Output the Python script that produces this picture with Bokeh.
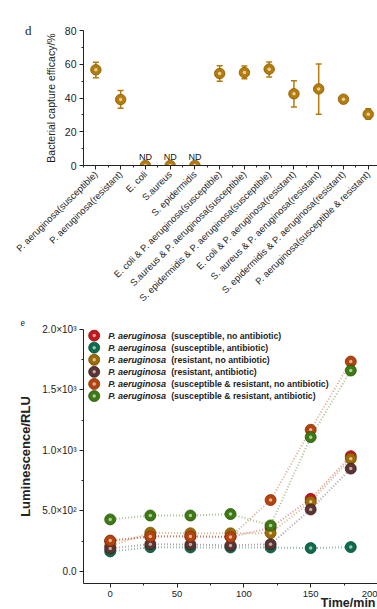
from bokeh.plotting import figure
from bokeh.models import ColumnDataSource, Whisker, TeeHead, FixedTicker, Range1d, Title, LinearAxis
from bokeh.layouts import column
from bokeh.embed import file_html
from bokeh.resources import INLINE
from bokeh.core.properties import value

# ---------------- data: panel d ----------------
categories = [
    "P. aeruginosa(susceptible)",
    "P. aeruginosa(resistant)",
    "E. coli",
    "S.aureus",
    "S. epidermidis",
    "E. coli & P. aeruginosa(susceptible)",
    "S.aureus & P. aeruginosa(susceptible)",
    "S. epidermidis & P. aeruginosa(susceptible)",
    "E. coli & P. aeruginosa(resistant)",
    "S. aureus & P. aeruginosa(resistant)",
    "S. epidermidis & P. aeruginosa(resistant)",
    "P. aeruginosa(susceptible & resistant)",
]
capture_mean = [56.7, 39.1, 0, 0, 0, 54.5, 55.1, 57.1, 42.5, 45.4, 39.3, 30.4]
capture_low = [52.0, 34.0, 0, 0, 0, 50.0, 51.4, 52.5, 34.6, 30.4, 38.5, 27.6]
capture_high = [61.2, 44.4, 0, 0, 0, 59.1, 58.9, 61.4, 50.2, 60.2, 40.1, 33.6]
not_detected = [False, False, True, True, True, False, False, False, False, False, False, False]

# ---------------- data: panel e ----------------
time_min = [0, 30, 60, 90, 120, 150, 180]
lum_sus_noab = [250, 290, 290, 285, 360, 600, 953]
lum_sus_ab = [165, 200, 198, 198, 198, 193, 201]
lum_res_noab = [210, 320, 315, 315, 317, 575, 931]
lum_res_ab = [190, 225, 222, 215, 225, 512, 850]
lum_mix_noab = [255, 289, 289, 285, 590, 1171, 1735]
lum_mix_ab = [430, 462, 462, 474, 380, 1110, 1661]
series_species = ["P. aeruginosa"] * 6
series_conditions = [
    "(susceptible, no antibiotic)",
    "(susceptible, antibiotic)",
    "(resistant, no antibiotic)",
    "(resistant, antibiotic)",
    "(susceptible & resistant, no antibiotic)",
    "(susceptible & resistant, antibiotic)",
]
series_values = [lum_sus_noab, lum_sus_ab, lum_res_noab, lum_res_ab, lum_mix_noab, lum_mix_ab]
series_colors = ["#C4161C", "#0E6B4C", "#9C6B05", "#5B3330", "#B4440E", "#3D7A14"]
series_edges = ["#8E0E12", "#084A34", "#6E4B02", "#3C201E", "#7E2E08", "#28540C"]

FONT = "Liberation Sans"
AX = "#222222"

def style_axes(p):
    p.outline_line_color = None
    p.xgrid.grid_line_color = None
    p.ygrid.grid_line_color = None
    for ax in (p.xaxis[0], p.yaxis[0]):
        ax.axis_line_color = AX
        ax.major_tick_line_color = AX
        ax.minor_tick_line_color = AX
        ax.major_tick_in = 0
        ax.major_tick_out = 4
        ax.minor_tick_in = 0
        ax.minor_tick_out = 2
        ax.major_label_text_font = FONT
        ax.major_label_text_color = AX
        ax.axis_label_text_font = FONT
        ax.axis_label_text_color = AX
        ax.major_label_standoff = 3

# ---------------- panel d ----------------
gold = "#B47C0C"
gold_edge = "#855A04"
xpos = [i + 1 for i in range(len(categories))]

p1 = figure(width=377, height=310, x_range=Range1d(0.5, 12.375), y_range=Range1d(0, 80),
            output_backend="svg", toolbar_location=None,
            min_border_left=73, min_border_right=0, min_border_top=30, min_border_bottom=145)
style_axes(p1)
p1.xaxis.ticker = FixedTicker(ticks=xpos, minor_ticks=[x + 0.5 for x in xpos[:-1]] + [0.5])
p1.xaxis.major_label_overrides = {x: c for x, c in zip(xpos, categories)}
p1.xaxis.major_label_orientation = 0.78
p1.xaxis.major_label_text_font_size = "9.4px"
p1.yaxis.ticker = FixedTicker(ticks=[0, 20, 40, 60, 80], minor_ticks=[10, 30, 50, 70])
p1.yaxis.major_label_text_font_size = "10.5px"
p1.yaxis.axis_label = "Bacterial capture efficacy/%"
p1.yaxis.axis_label_text_font_size = "10.5px"
p1.yaxis.axis_label_text_font_style = "normal"
p1.yaxis.axis_label_standoff = 5

# panel letter "d" carried by a bare outer axis (no line, no ticks)
letter_axis = LinearAxis(ticker=FixedTicker(ticks=[], minor_ticks=[]), axis_line_color=None,
                         major_tick_line_color=None, minor_tick_line_color=None,
                         axis_label="d", axis_label_orientation="horizontal",
                         axis_label_standoff=10, axis_label_text_font="Liberation Serif",
                         axis_label_text_font_size="13px", axis_label_text_font_style="normal",
                         axis_label_text_color=AX)
if "axis_label_align" in letter_axis.properties():
    letter_axis.axis_label_align = "end"
p1.add_layout(letter_axis, "left")

det = [i for i, nd in enumerate(not_detected) if not nd]
err_src = ColumnDataSource(dict(x=[xpos[i] for i in det],
                                lo=[capture_low[i] for i in det],
                                hi=[capture_high[i] for i in det]))
wh = Whisker(base="x", lower="lo", upper="hi", source=err_src, line_color=gold, line_width=1.5,
             upper_head=TeeHead(size=6, line_color=gold, line_width=1.5),
             lower_head=TeeHead(size=6, line_color=gold, line_width=1.5), level="underlay")
p1.add_layout(wh)
p1.scatter(xpos, capture_mean, size=10.5, fill_color=gold, line_color=gold_edge, line_width=0.8)
p1.scatter(xpos, capture_mean, size=3.5, fill_color="#F3DFAF", line_color=None, fill_alpha=0.85)
nd_x = [xpos[i] for i, nd in enumerate(not_detected) if nd]
p1.text(x=nd_x, y=[capture_mean[i] for i, nd in enumerate(not_detected) if nd], text=["ND"] * len(nd_x),
        text_font=value(FONT), text_font_size="9px", text_align="center", text_baseline="bottom",
        y_offset=-4, text_color="#111111")

# ---------------- panel e ----------------
p2 = figure(width=377, height=299, x_range=Range1d(-20, 200), y_range=Range1d(-100, 2000),
            output_backend="svg", toolbar_location=None,
            min_border_left=83, min_border_right=0, min_border_top=19, min_border_bottom=26)
style_axes(p2)
p2.title.text = "e"
p2.title.align = "left"
p2.title.offset = -63
p2.title.standoff = 7
p2.title.text_font = "Liberation Serif"
p2.title.text_font_size = "10px"
p2.title.text_font_style = "normal"
p2.title.text_color = AX
p2.xaxis.ticker = FixedTicker(ticks=[0, 50, 100, 150, 200], minor_ticks=[25, 75, 125, 175])
p2.xaxis.major_label_text_font_size = "9.5px"
p2.yaxis.ticker = FixedTicker(ticks=[0, 500, 1000, 1500, 2000], minor_ticks=[250, 750, 1250, 1750])
p2.yaxis.major_label_overrides = {0: "0.0", 500: "5.0×10²", 1000: "1.0×10³", 1500: "1.5×10³", 2000: "2.0×10³"}
p2.yaxis.major_label_text_font_size = "10px"
p2.yaxis.axis_label = "Luminescence/RLU"
p2.yaxis.axis_label_text_font_size = "13px"
p2.yaxis.axis_label_text_font_style = "bold"
p2.yaxis.axis_label_standoff = 6
p2.add_layout(Title(text="Time/min", align="right", standoff=-12, offset=2, text_font=FONT,
                    text_font_size="12.5px", text_font_style="bold", text_color=AX), "below")

for vals, col in zip(series_values, series_colors):
    p2.line(time_min, vals, line_color=col, line_dash="1 2", line_width=2, line_alpha=0.45)
for vals, col, edge in zip(series_values, series_colors, series_edges):
    p2.scatter(time_min, vals, size=11, fill_color=col, line_color=edge, line_width=0.8)
    p2.scatter(time_min, vals, size=3.5, fill_color="#FFFFFF", line_color=None, fill_alpha=0.6)

legend_x = -12
legend_top = 1950
legend_step = 100
leg_y = [legend_top - i * legend_step for i in range(len(series_colors))]
p2.scatter([legend_x] * len(leg_y), leg_y, size=11, fill_color=series_colors, line_color=series_edges,
           line_width=0.8)
p2.scatter([legend_x] * len(leg_y), leg_y, size=3.5, fill_color="#FFFFFF", line_color=None, fill_alpha=0.6)
p2.text(x=[legend_x] * len(leg_y), y=leg_y, text=series_species, x_offset=14,
        text_font=value(FONT), text_font_size="9px", text_font_style="bold italic",
        text_baseline="middle", text_color="#222222")
p2.text(x=[legend_x] * len(leg_y), y=leg_y, text=series_conditions, x_offset=77,
        text_font=value(FONT), text_font_size="8.7px", text_font_style="bold",
        text_baseline="middle", text_color="#222222")

layout = column(p1, p2, spacing=0)
open("out.html", "w").write(file_html(layout, INLINE))
